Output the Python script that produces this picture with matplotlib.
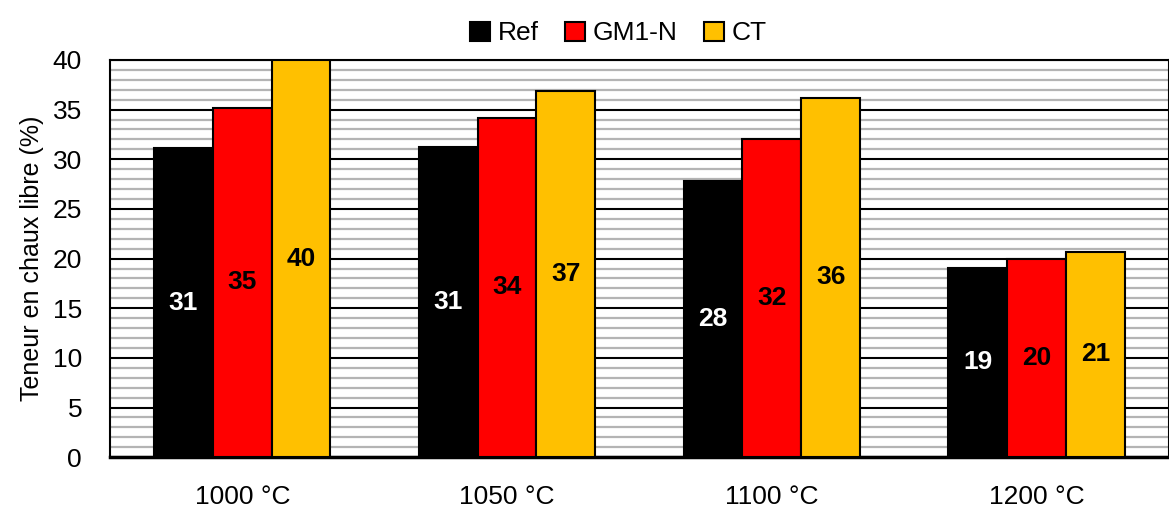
import numpy as np
import matplotlib.pyplot as plt
from matplotlib.ticker import MultipleLocator

categories = ['1000 °C', '1050 °C', '1100 °C', '1200 °C']
ref = [31.1, 31.2, 27.8, 19.1]
gm1n = [35.2, 34.2, 32.0, 20.0]
ct = [40.0, 36.9, 36.2, 20.7]
series_names = ['Ref', 'GM1-N', 'CT']

plt.rcParams['font.family'] = ['Liberation Sans', 'DejaVu Sans']

fig = plt.figure(figsize=(11.69, 5.08), dpi=100)
ax = fig.add_axes([0.094, 0.1, 0.906, 0.782])

x = np.arange(len(categories))
w = 0.222
colors = ['#000000', '#ff0000', '#ffc000']
txtcol = ['white', 'black', 'black']
for k, (vals, name) in enumerate(zip([ref, gm1n, ct], series_names)):
    bars = ax.bar(x + (k - 1) * w, vals, w, color=colors[k], edgecolor='black',
                  linewidth=1.5, label=name, zorder=3)
    for b, v in zip(bars, vals):
        ax.text(b.get_x() + b.get_width() / 2, v / 2, f'{v:.0f}', ha='center', va='center',
                color=txtcol[k], fontsize=19, fontweight='bold', zorder=4)

ax.set_xlim(-0.5, 3.5)
ax.set_ylim(0, 40)
ax.yaxis.set_major_locator(MultipleLocator(5))
ax.yaxis.set_minor_locator(MultipleLocator(1))
ax.grid(which='minor', axis='y', color='#b4b4b4', linewidth=1.6, zorder=0)
ax.grid(which='major', axis='y', color='black', linewidth=1.5, zorder=1)
ax.set_xticks(x)
ax.set_xticklabels(categories)
ax.tick_params(axis='both', which='both', length=0, labelsize=19)
ax.tick_params(axis='y', pad=20)
ax.tick_params(axis='x', pad=20)
ax.set_ylabel('Teneur en chaux libre (%)', fontsize=18, labelpad=6)
for s in ['left', 'top', 'right']:
    ax.spines[s].set_linewidth(1.5)
ax.spines['bottom'].set_linewidth(2.5)

ax.legend(loc='lower center', bbox_to_anchor=(0.48, 1.0), ncol=3, frameon=False,
          fontsize=19, handlelength=0.75, handleheight=0.75, handletextpad=0.3,
          columnspacing=1.0, borderaxespad=0.15)

fig.savefig('out.png', dpi=100)
